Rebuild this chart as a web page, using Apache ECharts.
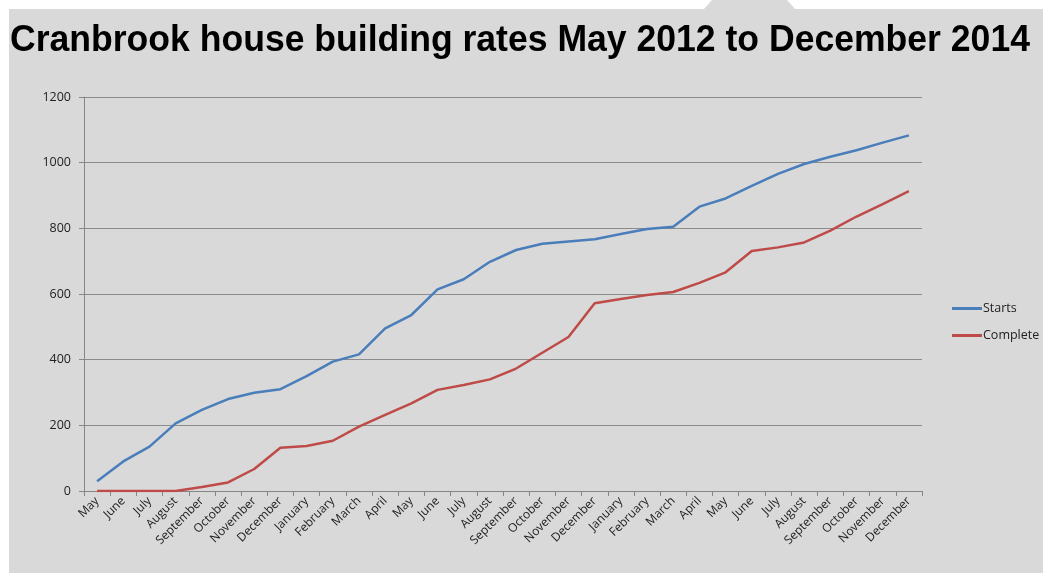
<!DOCTYPE html>
<html>
<head>
<meta charset="utf-8">
<script src="https://cdn.jsdelivr.net/npm/echarts@6/dist/echarts.min.js"></script>
<style>
  html, body { margin: 0; padding: 0; background: #fff; }
  #chart { width: 1043px; height: 575px; }
</style>
</head>
<body>
<div id="chart"></div>
<script>
const months = [
  "May", "June", "July", "August", "September", "October", "November", "December",
  "January", "February", "March", "April", "May", "June", "July", "August",
  "September", "October", "November", "December",
  "January", "February", "March", "April", "May", "June", "July", "August",
  "September", "October", "November", "December"
]
const starts = [
  30, 90, 135, 206, 247, 280, 299, 310, 350, 394, 416, 495, 536, 614, 645, 698,
  734, 753, 760, 767, 783, 798, 805, 866, 891, 929, 966, 996, 1018, 1038, 1061, 1083
]
const complete = [
  0, 0, 0, 0, 12, 26, 67, 132, 137, 153, 196, 232, 267, 308, 323, 340,
  373, 421, 469, 572, 585, 597, 606, 634, 666, 731, 742, 757, 793, 836, 874, 913
]
const yTicks = [0, 200, 400, 600, 800, 1000, 1200]

const chart = echarts.init(document.getElementById("chart"), null, { renderer: "canvas" })

const labelFont = "'Open Sans', 'Noto Sans', sans-serif"

chart.setOption({
  backgroundColor: "#ffffff",
  animation: false,
  color: ["#4a7ebb", "#be4b48"],
  graphic: [
    {
      type: "rect",
      z: -10,
      shape: { x: 9, y: 9, width: 1034, height: 564 },
      style: { fill: "#d9d9d9" }
    },
    {
      type: "polygon",
      z: -10,
      shape: { points: [[712, 0], [787, 0], [795, 9], [704, 9]] },
      style: { fill: "#d9d9d9" }
    },
    {
      type: "text",
      left: 10,
      top: 23,
      scaleX: 0.988,
      style: {
        text: "Cranbrook house building rates May 2012 to December 2014",
        fill: "#000",
        font: "bold 36px 'Liberation Sans', Arial, sans-serif"
      }
    }
  ],
  legend: {
    orient: "vertical",
    left: 947,
    top: 297,
    itemWidth: 30,
    itemHeight: 3,
    itemGap: 14,
    icon: "rect",
    textStyle: { color: "#222", fontSize: 12.5, fontFamily: labelFont, padding: [0, 0, 0, -4] },
    data: ["Starts", "Complete"]
  },
  grid: { left: 84, right: 121, top: 97, bottom: 84 },
  xAxis: {
    type: "category",
    data: months,
    boundaryGap: true,
    axisLine: { lineStyle: { color: "#868686", width: 1 } },
    axisTick: { show: true, length: 5, lineStyle: { color: "#868686" } },
    axisLabel: {
      interval: 0,
      rotate: 45,
      color: "#222",
      fontSize: 12,
      fontFamily: labelFont,
      margin: 8
    }
  },
  yAxis: {
    type: "value",
    min: yTicks[0],
    max: yTicks[yTicks.length - 1],
    interval: 200,
    axisLine: { show: true, lineStyle: { color: "#868686", width: 1 } },
    axisTick: { show: true, length: 5, lineStyle: { color: "#868686" } },
    splitLine: { lineStyle: { color: "#8c8c8c", width: 1 } },
    axisLabel: {
      color: "#222",
      fontSize: 12.5,
      fontFamily: labelFont,
      margin: 13,
      formatter: (value) => String(value)
    }
  },
  series: [
    {
      name: "Starts",
      type: "line",
      data: starts,
      symbol: "none",
      lineStyle: { width: 2.5 }
    },
    {
      name: "Complete",
      type: "line",
      data: complete,
      symbol: "none",
      lineStyle: { width: 2.5 }
    }
  ]
})
</script>
</body>
</html>
